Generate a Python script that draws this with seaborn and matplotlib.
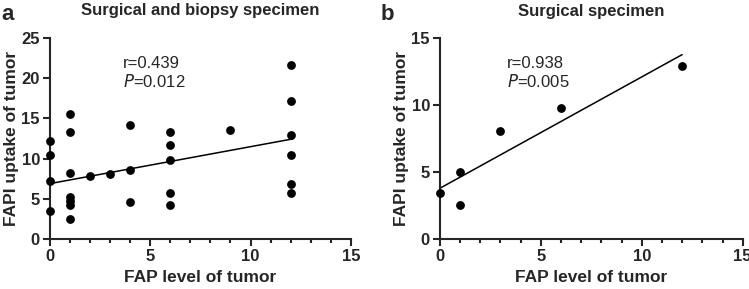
import numpy as np
import pandas as pd
import matplotlib
matplotlib.use("Agg")
import matplotlib.pyplot as plt
import seaborn as sns
from matplotlib.ticker import MultipleLocator

# Panel a data
a_x = [0, 0, 0, 0, 1, 1, 1, 1, 1, 1, 1, 2, 3, 4, 4, 4, 6, 6, 6, 6, 6, 9, 12, 12, 12, 12, 12, 12]
a_y = [12.2, 10.45, 7.25, 3.45, 15.6, 13.3, 8.2, 5.3, 4.8, 4.3, 2.5, 7.8, 8.1, 14.15, 8.65, 4.6,
       13.35, 11.7, 9.85, 5.8, 4.2, 13.55, 21.6, 17.2, 12.9, 10.4, 6.85, 5.7]
a_fit_x = [0, 12.1]
a_fit_y = [6.9, 12.45]

# Panel b data
b_x = [0, 1, 1, 3, 6, 12]
b_y = [3.43, 5.0, 2.56, 8.11, 9.83, 12.96]
b_fit_x = [0, 12]
b_fit_y = [3.8, 13.78]

titles = ["Surgical and biopsy specimen", "Surgical specimen"]
letters = ["a", "b"]
stats_r = ["r=0.439", "r=0.938"]
stats_p = ["=0.012", "=0.005"]
xlabel = "FAP level of tumor"
ylabel = "FAPI uptake of tumor"

sns.set_style("ticks")
plt.rcParams['font.family'] = ['Liberation Sans', 'DejaVu Sans']

fig = plt.figure(figsize=(7.49, 2.89), dpi=100)
W, H = 749, 289

def px_axes(x0, x1, ytop, ybot):
    return fig.add_axes([x0 / W, (H - ybot) / H, (x1 - x0) / W, (ybot - ytop) / H])

axA = px_axes(49.7, 351, 37.7, 239.3)
axB = px_axes(439.7, 742.7, 38.3, 239.3)

panels = [
    (axA, a_x, a_y, a_fit_x, a_fit_y, 25, (3.65, 21.2, 18.85)),
    (axB, b_x, b_y, b_fit_x, b_fit_y, 15, (3.33, 12.78, 11.36)),
]

for i, (ax, xs, ys, fx, fy, ymax, tpos) in enumerate(panels):
    df = pd.DataFrame({"x": xs, "y": ys})
    fdf = pd.DataFrame({"x": fx, "y": fy})
    sns.lineplot(data=fdf, x="x", y="y", ax=ax, color="black", linewidth=1.1, zorder=2)
    sns.scatterplot(data=df, x="x", y="y", ax=ax, color="black", s=40, edgecolor="black",
                    linewidth=0, clip_on=False, zorder=3)
    ax.set_xlim(0, 15)
    ax.set_ylim(0, ymax)
    ax.xaxis.set_major_locator(MultipleLocator(5))
    ax.xaxis.set_minor_locator(MultipleLocator(1))
    ax.yaxis.set_major_locator(MultipleLocator(5))
    for s in ["top", "right"]:
        ax.spines[s].set_visible(False)
    for s in ["left", "bottom"]:
        ax.spines[s].set_linewidth(1.5)
    ax.tick_params(axis="both", which="major", length=5, width=1.5, labelsize=12, pad=2)
    ax.tick_params(axis="x", which="minor", length=3, width=1.5)
    for lab in ax.get_xticklabels() + ax.get_yticklabels():
        lab.set_fontweight("bold")
    ax.set_xlabel(xlabel, fontsize=12.5, fontweight="bold", labelpad=4)
    ax.set_ylabel(ylabel, fontsize=12.5, fontweight="bold", labelpad=2)
    ax.set_title(titles[i], fontsize=12, fontweight="bold", pad=16)
    tx, ty1, ty2 = tpos
    ax.text(tx, ty1, stats_r[i], fontsize=12, va="baseline", ha="left")
    ax.text(tx, ty2, r"$\it{P}$" + stats_p[i], fontsize=12, va="baseline", ha="left")

fig.text(1 / W, 1 - 20 / H, letters[0], fontsize=16, fontweight="bold", va="baseline", ha="left")
fig.text(381 / W, 1 - 20 / H, letters[1], fontsize=16, fontweight="bold", va="baseline", ha="left")

fig.savefig("out.png", dpi=100)
